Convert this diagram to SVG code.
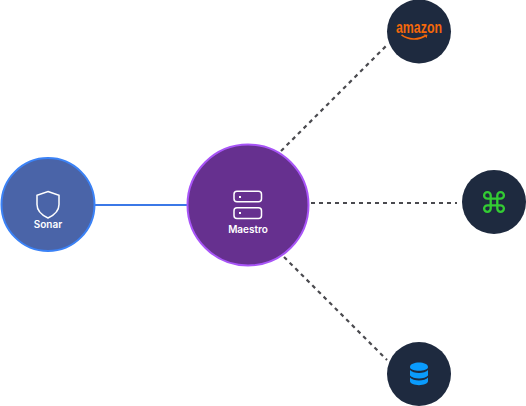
<svg xmlns="http://www.w3.org/2000/svg" width="526" height="406" viewBox="0 0 526 406">
<style>
.lbl{font-family:"Inter","Liberation Sans",sans-serif;font-weight:600;font-size:10px;fill:#fff;text-anchor:middle}
.dash{fill:none;stroke:#4a4a4f;stroke-width:2.200;stroke-dasharray:4 4}
.ic{fill:none;stroke:#fff;stroke-width:1.500}
.dark{fill:#1e2a3f}
</style>
<rect width="526" height="406" fill="#fff"/>
<g id="connectors">
<line x1="95" y1="205" x2="187" y2="205" stroke="#3b78e7" stroke-width="2"/>
<line class="dash" x1="281" y1="151" x2="387" y2="45"/>
<line class="dash" x1="311" y1="203" x2="457" y2="203"/>
<line class="dash" x1="284" y1="257" x2="387" y2="360"/>
</g>
<g id="sonar">
<circle cx="48" cy="204.500" r="46.500" fill="#4a64a8" stroke="#3b82f6" stroke-width="2"/>
<path class="ic" d="M48 191.500l11 3.800v9.200c0 6.200-4.500 10.500-11 13.500c-6.500-3-11-7.300-11-13.500v-9.200z"/>
<text class="lbl" x="48" y="227.500">Sonar</text>
</g>
<g id="maestro">
<circle cx="248" cy="205" r="60.500" fill="#66308f" stroke="#a855f7" stroke-width="2"/>
<rect class="ic" x="234" y="191.300" width="27.500" height="10.500" rx="3"/>
<rect class="ic" x="234" y="207.700" width="27.500" height="10.800" rx="3"/>
<rect x="239" y="196" width="2" height="2" fill="#fff"/>
<rect x="239" y="212" width="2" height="2" fill="#fff"/>
<text class="lbl" x="248" y="233">Maestro</text>
</g>
<g id="amazon">
<circle class="dark" cx="419" cy="31.500" r="32"/>
<text x="419" y="33" font-family="Liberation Sans,sans-serif" font-weight="700" font-size="16.500" fill="#f5680a" text-anchor="middle" textLength="46" lengthAdjust="spacingAndGlyphs">amazon</text>
<path d="M401.500 34.800c7 5.200 17 5.400 23.500 1.200" fill="none" stroke="#f5680a" stroke-width="1.600"/>
<path d="M423.500 34.500l4 .2l-1 3.600z" fill="#f5680a"/>
</g>
<g id="command">
<circle class="dark" cx="494" cy="202" r="32"/>
<path transform="translate(480.800 188.800) scale(1.100)" fill="none" stroke="#33cc33" stroke-width="2.100" d="M18 3a3 3 0 0 0-3 3v12a3 3 0 0 0 3 3 3 3 0 0 0 3-3 3 3 0 0 0-3-3H6a3 3 0 0 0-3 3 3 3 0 0 0 3 3 3 3 0 0 0 3-3V6a3 3 0 0 0-3-3 3 3 0 0 0-3 3 3 3 0 0 0 3 3h12a3 3 0 0 0 3-3 3 3 0 0 0-3-3z"/>
</g>
<g id="database">
<circle class="dark" cx="419" cy="374" r="32"/>
<path fill="#0a9bfc" d="M410 367c0-6 18-6 18 0c0 5-18 5-18 0zM410 370c3 4 15 4 18 0v5.500c-3 4-15 4-18 0zM410 377.500c3 4 15 4 18 0v3.500c0 5.500-18 5.500-18 0z"/>
</g>
</svg>
